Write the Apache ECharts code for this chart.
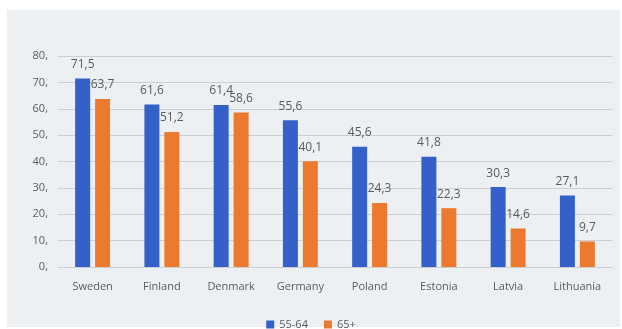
<!DOCTYPE html>
<html>
<head>
<meta charset="utf-8">
<script src="https://cdn.jsdelivr.net/npm/echarts@6/dist/echarts.min.js"></script>
<style>
  html, body { margin: 0; padding: 0; background: #ffffff; }
  #panel { position: absolute; left: 7px; top: 10px; width: 613px; height: 317px; background: #edf0f3; }
  #chart { position: absolute; left: 0; top: 0; width: 622px; height: 329px; }
</style>
</head>
<body>
<div id="panel"></div>
<div id="chart"></div>
<script>
const countries = ['Sweden', 'Finland', 'Denmark', 'Germany', 'Poland', 'Estonia', 'Latvia', 'Lithuania'];
const age55to64 = [71.5, 61.6, 61.4, 55.6, 45.6, 41.8, 30.3, 27.1];
const age65plus = [63.7, 51.2, 58.6, 40.1, 24.3, 22.3, 14.6, 9.7];
const seriesNames = ['55-64', '65+'];
const yTicks = [0, 10, 20, 30, 40, 50, 60, 70, 80];

const textColor = '#5a5a5a';
const fontFamily = '"Open Sans", "DejaVu Sans", sans-serif';
const fmtComma = v => String(v).replace('.', ',');

const chart = echarts.init(document.getElementById('chart'), null, { renderer: 'canvas' });
chart.setOption({
  backgroundColor: 'transparent',
  animation: false,
  grid: { left: 58, right: 10, top: 56, bottom: 62 },
  legend: {
    data: seriesNames,
    top: 314,
    left: 'center',
    itemWidth: 8,
    itemHeight: 8,
    itemGap: 16,
    icon: 'rect',
    textStyle: { color: textColor, fontSize: 11, fontFamily }
  },
  xAxis: {
    type: 'category',
    data: countries,
    axisTick: { show: false },
    axisLine: { lineStyle: { color: '#cbcfd4' } },
    axisLabel: { color: textColor, fontSize: 11, fontFamily, margin: 14, interval: 0 }
  },
  yAxis: {
    type: 'value',
    min: yTicks[0],
    max: yTicks[yTicks.length - 1],
    interval: 10,
    axisLine: { show: false },
    axisTick: { show: false },
    splitLine: { lineStyle: { color: '#cbcfd4' } },
    axisLabel: { color: textColor, fontSize: 11, fontFamily, margin: 10, formatter: v => v + ',' }
  },
  series: [
    {
      name: seriesNames[0],
      type: 'bar',
      data: age55to64,
      barWidth: 15,
      barGap: '33%',
      itemStyle: { color: '#3461c9' },
      label: { show: true, position: 'top', distance: 8, color: textColor, fontSize: 12, fontFamily, formatter: p => fmtComma(p.value) }
    },
    {
      name: seriesNames[1],
      type: 'bar',
      data: age65plus,
      barWidth: 15,
      itemStyle: { color: '#ec7a2e' },
      label: { show: true, position: 'top', distance: 8, color: textColor, fontSize: 12, fontFamily, formatter: p => fmtComma(p.value) }
    }
  ]
});
</script>
</body>
</html>
